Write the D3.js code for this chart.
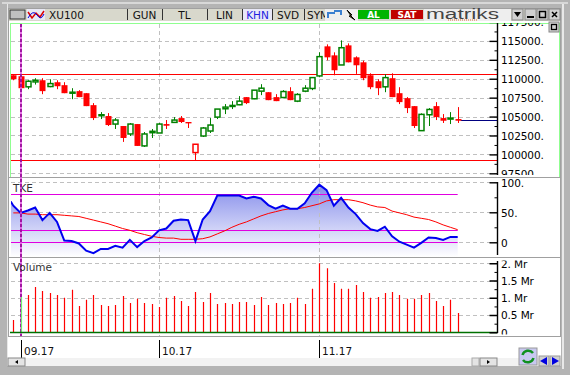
<!DOCTYPE html>
<html>
<head>
<meta charset="utf-8">
<script src="https://cdn.jsdelivr.net/npm/d3@7"></script>
<style>
  html, body { margin: 0; padding: 0; background: #b4b4b4; overflow: hidden; }
  svg { display: block; }
  text { font-family: "DejaVu Sans", sans-serif; }
</style>
</head>
<body>
<svg id="chart" width="570" height="375"></svg>
<script>
// XU100 daily candles.
const opens  = [110460,110330,108930,109580,109800,108970,109540,109150,108140,108360,108090,106510,105150,105070,104010,103750,102700,104010,101120,102870,102830,104010,104230,104800,104280,100240,102430,103090,104930,106030,106380,106560,107570,107350,108360,108220,107570,107520,108360,107040,108360,108710,110370,114280,113090,111820,114410,112830,112170,110460,109670,108930,110070,108090,107430,106380,103140,105240,106380,104800,104710,104670];
const highs  = [110460,110330,109800,110070,110070,109930,109800,109540,108750,108490,108090,106780,105590,105460,104800,103750,104150,104010,102960,103360,104150,104540,104930,105070,104280,101340,103620,104800,105990,106650,107040,107700,107570,108490,109280,108220,107960,108490,108880,108090,109150,110200,113490,114540,113490,115070,114670,112960,112390,110720,109930,110590,110720,108880,107570,106380,105420,106120,106910,105330,105590,106250];
const lows   = [109800,108750,108620,109230,107960,108880,108620,108090,107300,107570,106380,104540,104670,103750,103360,101650,102430,101120,100990,102170,102830,103360,104230,104150,103490,99230,102300,102830,104670,105330,105990,106510,106650,107300,107830,107170,107040,107430,107170,106910,108220,108490,110200,112430,110460,111820,112170,110640,109800,108620,107830,108220,107570,106650,105460,103490,103140,103750,104540,104150,104010,104150];
const closes = [109930,108750,109670,109800,108360,109360,109010,108090,108220,107570,106380,104800,105240,103880,104540,102170,104010,101120,102700,103050,104010,103790,104540,104280,104100,101340,103490,103880,105990,106250,106470,107040,106780,108490,108750,107170,107040,108310,107170,107920,108750,110150,112920,112830,111120,114100,112170,111780,110070,108880,108750,110150,107570,106910,106120,103750,105290,105940,104930,104450,104800,104450];
const hollowRed = [25];

const tke    = [61,49,53,58,37,49,34,3,2,-2,-14,-18,-11,-11,-6,-9,4,-8,2,8,20,23,36,38,37,2,38,52,78,78,78,78,73,76,73,62,56,61,56,56,65,83,96,87,61,74,58,47,32,22,19,26,10,1,-4,-9,-1,8,7,4,9,9];
const signal = [49,49,47,47,46,46,46,45,44,43,40,37,34,31,27,23,20,16,13,10,8,7,7,5,5,5,6,9,14,19,25,30,34,39,44,48,51,54,56,56,58,61,64,69,71,71,71,69,66,62,59,58,52,49,46,42,40,38,34,29,25,21];
const tkeLead = 68; // value just left of the first candle

const volume = [.36,1.02,1.08,1.31,1.2,1.14,1.08,1,1.23,.76,.94,1.08,.79,.76,.79,1.05,.85,.97,.85,.82,.73,1,1.05,.91,.76,1.17,.88,1.14,.82,.85,.82,.88,.88,.79,1.02,.79,.85,.82,.85,1,.82,1.26,2,1.86,1.43,1.26,1.26,1.37,1.17,1,1.02,1.14,1.17,1.08,.97,.97,1.08,1.14,.91,.76,.94,.56];

const priceTicks = [97500,100000,102500,105000,107500,110000,112500,115000,117500];
const priceMinor = [98750,101250,103750,106250,108750,111250,113750,116250];
const priceLines = [110680,99230];
const lastPrice  = 104500;
const tkeTicks = [0,50,100];
const tkeMinor = [-25,25,75];
const tkeLines = [80,20,0];
const volTicks = [0,0.5,1,1.5,2];
const volMinor = [0.25,0.75,1.25,1.75];
const monthLabels = ['09.17','10.17','11.17'];
const monthIdx = [1,20,42];
const toolbarTabs = ['GUN','TL','LIN','KHN','SVD','SYM'];
const toolbarTabX = [128,163,208,243,273,305];
const toolbarTabW = [33,43,33,29,30,20];

const svg = d3.select('#chart');
const x = d3.scaleLinear().domain([0, 61]).range([13.3, 457.7]);
const yP = d3.scaleLinear().domain([100000, 115000]).range([154.4, 40.9]);
const yT = d3.scaleLinear().domain([0, 100]).range([242.3, 182.3]);
const yV = d3.scaleLinear().domain([0, 2]).range([332.3, 263.3]);
const px = i => Math.round(x(i));
const AX = 497.5;

// window chrome
svg.append('rect').attr('x', 0).attr('y', 0).attr('width', 570).attr('height', 375).attr('fill', '#b4b4b4');
svg.append('rect').attr('x', 8).attr('y', 8).attr('width', 553).attr('height', 350).attr('fill', '#fff');
svg.append('rect').attr('x', 8).attr('y', 358).attr('width', 553).attr('height', 8).attr('fill', '#f2f2f2');
svg.append('rect').attr('x', 8.5).attr('y', 8.5).attr('width', 552).attr('height', 328).attr('fill', 'none').attr('stroke', '#a0a0a0');
svg.append('rect').attr('x', 562).attr('y', 3).attr('width', 2).attr('height', 366).attr('fill', '#e8e8e8');
svg.append('rect').attr('x', 2).attr('y', 2).attr('width', 566).attr('height', 2).attr('fill', '#d8d8d8');
svg.append('rect').attr('x', 7).attr('y', 4).attr('width', 1).attr('height', 362).attr('fill', '#e8e8e8');

const defs = svg.append('defs');
const grad = defs.append('linearGradient').attr('id', 'tkeFill')
  .attr('gradientUnits', 'userSpaceOnUse').attr('x1', 0).attr('x2', 0).attr('y1', 182).attr('y2', 257);
grad.append('stop').attr('offset', 0).attr('stop-color', '#8088ea');
grad.append('stop').attr('offset', 1).attr('stop-color', '#ffffff');
[['clipMain', 8, 23, 552, 152], ['clipTke', 11, 178, 549, 79], ['clipVol', 8, 260.5, 552, 74]].forEach(c => {
  defs.append('clipPath').attr('id', c[0]).append('rect')
    .attr('x', c[1]).attr('y', c[2]).attr('width', c[3]).attr('height', c[4]);
});

function gridLines(g, vals, y) {
  g.selectAll('line.grid').data(vals).enter().append('line').attr('class', 'grid')
    .attr('x1', 11).attr('x2', AX)
    .attr('y1', d => Math.round(y(d)) + .5).attr('y2', d => Math.round(y(d)) + .5)
    .attr('stroke', '#c0c0c0').attr('stroke-dasharray', '4,3');
}

function rightAxis(parent, y, major, minor, fmt) {
  const g = parent.append('g').attr('transform', `translate(${AX},0)`);
  g.call(d3.axisRight(y).tickValues(major).tickFormat(fmt).tickSizeOuter(0));
  g.select('.domain').remove();
  g.selectAll('.tick line').attr('x1', -8).attr('x2', 0).attr('stroke', '#000').attr('stroke-width', 1.4);
  g.selectAll('.tick text').attr('x', 3.5).attr('dy', '.36em').attr('fill', '#000')
    .style('font-size', '10.5px').style('font-family', '"DejaVu Sans"').style('letter-spacing', '-0.1px');
  const m = parent.append('g').attr('transform', `translate(${AX},0)`);
  m.call(d3.axisRight(y).tickValues(minor).tickFormat('').tickSizeOuter(0));
  m.select('.domain').remove();
  m.selectAll('.tick line').attr('x1', -3).attr('x2', 0).attr('stroke', '#000');
}

// --- vertical guides sit under the price and volume marks
const vx = monthIdx.map(i => Math.round(x(i)) + .5);

// --- price panel
const main = svg.append('g').attr('clip-path', 'url(#clipMain)');
gridLines(main, priceTicks, yP);
main.selectAll('line.vg').data(vx.slice(1)).enter().append('line').attr('class', 'vg')
  .attr('x1', d => d).attr('x2', d => d).attr('y1', 24).attr('y2', 176)
  .attr('stroke', '#c0c0c0').attr('stroke-dasharray', '4,3');
svg.append('rect').attr('x', 10.5).attr('y', 23.5).attr('width', 549).attr('height', 154)
  .attr('fill', 'none').attr('stroke', '#90ff90').attr('stroke-width', 1);
main.selectAll('line.level').data(priceLines).enter().append('line').attr('class', 'level')
  .attr('x1', 11).attr('x2', AX)
  .attr('y1', d => Math.round(yP(d)) + .5).attr('y2', d => Math.round(yP(d)) + .5)
  .attr('stroke', '#f00');
main.append('line').attr('x1', x(61) + 3).attr('x2', AX)
  .attr('y1', Math.round(yP(lastPrice)) + .5).attr('y2', Math.round(yP(lastPrice)) + .5)
  .attr('stroke', '#000080');

const idx = d3.range(opens.length);
const isUp = i => closes[i] >= opens[i];
const candleColor = i => (isUp(i) && !hollowRed.includes(i)) ? '#008000' : '#f00';
main.selectAll('line.wick').data(idx).enter().append('line').attr('class', 'wick')
  .attr('x1', i => px(i) + .5).attr('x2', i => px(i) + .5)
  .attr('y1', i => yP(highs[i])).attr('y2', i => yP(lows[i]))
  .attr('stroke', candleColor);
main.selectAll('rect.body').data(idx).enter().append('rect').attr('class', 'body')
  .attr('x', i => isUp(i) ? px(i) - 2 : px(i) - 2.5)
  .attr('width', i => isUp(i) ? 5 : 6)
  .attr('y', i => isUp(i) ? yP(closes[i]) : yP(opens[i]))
  .attr('height', i => Math.max(1, Math.abs(yP(closes[i]) - yP(opens[i]))))
  .attr('fill', i => isUp(i) ? '#fff' : '#f00')
  .attr('stroke', i => isUp(i) ? candleColor(i) : 'none')
  .attr('stroke-width', 1.5);
const priceAxis = svg.append('g').attr('clip-path', 'url(#clipMain)');
rightAxis(priceAxis, yP, priceTicks, priceMinor, d => d + '.');
svg.append('line').attr('x1', AX).attr('x2', AX).attr('y1', 23).attr('y2', 175).attr('stroke', '#000').attr('stroke-width', 1.4);

// --- TKE panel
const sep = [177.5, 257.5];
svg.selectAll('line.sep').data(sep).enter().append('line').attr('class', 'sep')
  .attr('x1', 8).attr('x2', 561).attr('y1', d => d).attr('y2', d => d).attr('stroke', '#a0a0a0');
const tkeG = svg.append('g').attr('clip-path', 'url(#clipTke)');
gridLines(tkeG, tkeTicks, yT);
const lineX = i => i < 0 ? x(-0.35) : x(i);
const tkePts = [[-1, tkeLead]].concat(tke.map((v, i) => [i, v]));
tkeG.append('path').datum(tkePts)
  .attr('d', d3.area().x(d => lineX(d[0])).y0(257).y1(d => yT(d[1])))
  .attr('fill', 'url(#tkeFill)');
tkeG.selectAll('line.vg').data(vx.slice(1)).enter().append('line').attr('class', 'vg')
  .attr('x1', d => d).attr('x2', d => d).attr('y1', 178).attr('y2', 257)
  .attr('stroke', '#c0c0c0').attr('stroke-dasharray', '4,3');
tkeG.selectAll('line.tl').data(tkeLines).enter().append('line').attr('class', 'tl')
  .attr('x1', 11).attr('x2', x(61))
  .attr('y1', d => Math.round(yT(d)) + .5).attr('y2', d => Math.round(yT(d)) + .5)
  .attr('stroke', '#e000e0');
tkeG.append('path').datum(signal)
  .attr('d', d3.line().x((d, i) => x(i)).y(d => yT(d)))
  .attr('fill', 'none').attr('stroke', '#f00');
tkeG.append('path').datum(tkePts)
  .attr('d', d3.line().x(d => lineX(d[0])).y(d => yT(d[1])))
  .attr('fill', 'none').attr('stroke', '#0000f0').attr('stroke-width', 2);
const tkeAxis = svg.append('g').attr('clip-path', 'url(#clipTke)');
rightAxis(tkeAxis, yT, tkeTicks, tkeMinor, d => d === 0 ? '0' : d + '.');
svg.append('line').attr('x1', AX).attr('x2', AX).attr('y1', 182).attr('y2', 255).attr('stroke', '#000').attr('stroke-width', 1.4);
svg.append('text').attr('x', 13).attr('y', 192).attr('fill', '#333').style('font-size', '10.5px').text('TKE');

// --- volume panel
const volG = svg.append('g').attr('clip-path', 'url(#clipVol)');
gridLines(volG, volTicks.slice(1), yV);
svg.selectAll('line.vgv').data(vx.slice(1)).enter().append('line').attr('class', 'vgv')
  .attr('x1', d => d).attr('x2', d => d).attr('y1', 258).attr('y2', 336)
  .attr('stroke', '#c0c0c0').attr('stroke-dasharray', '4,3');
// purple cursor line runs under the light green bar
svg.append('line').attr('x1', vx[0] - .5).attr('x2', vx[0] - .5).attr('y1', 24).attr('y2', 336)
  .attr('stroke', '#e050e0').attr('stroke-width', 1.6);
svg.append('line').attr('x1', vx[0] - .5).attr('x2', vx[0] - .5).attr('y1', 24).attr('y2', 336)
  .attr('stroke', '#900090').attr('stroke-width', 1.6).attr('stroke-dasharray', '3,2');
const volBars = svg.append('g').attr('clip-path', 'url(#clipVol)');
volBars.selectAll('line.vol').data(volume).enter().append('line').attr('class', 'vol')
  .attr('x1', (d, i) => px(i) + .5).attr('x2', (d, i) => px(i) + .5)
  .attr('y1', d => yV(d)).attr('y2', yV(0))
  .attr('stroke', (d, i) => i === 1 ? '#70f070' : '#f00').attr('stroke-width', 1.2);
volBars.append('line').attr('x1', 10).attr('x2', AX).attr('y1', yV(0) + .2).attr('y2', yV(0) + .2)
  .attr('stroke', '#007000').attr('stroke-width', 1.4);
const volAxis = svg.append('g').attr('clip-path', 'url(#clipVol)');
rightAxis(volAxis, yV, volTicks, volMinor, d => d === 0 ? '0' : (Number.isInteger(d) ? d + '. Mr' : d + ' Mr'));
svg.append('line').attr('x1', AX).attr('x2', AX).attr('y1', 261).attr('y2', 333).attr('stroke', '#000').attr('stroke-width', 1.4);
svg.append('text').attr('x', 13).attr('y', 271).attr('fill', '#333').style('font-size', '10.5px').text('Volume');

// --- months
const months = svg.append('g');
monthLabels.forEach((m, i) => {
  months.append('line').attr('x1', vx[i]).attr('x2', vx[i]).attr('y1', 340).attr('y2', 358).attr('stroke', '#000');
  months.append('text').attr('x', vx[i] + 2.5).attr('y', 355).attr('fill', '#111').style('font-size', '10.5px').text(m);
});

// --- toolbar
const bar = svg.append('g');
bar.append('rect').attr('x', 9).attr('y', 9).attr('width', 551).attr('height', 12).attr('fill', '#d8d8cc');
bar.append('rect').attr('x', 10).attr('y', 10).attr('width', 15).attr('height', 9).attr('fill', '#c0c0c0').attr('stroke', '#333');
bar.append('rect').attr('x', 27).attr('y', 9).attr('width', 18).attr('height', 11).attr('fill', '#e8e8f4');
bar.append('path').attr('d', 'M28,12 L32,18 L36,13 L40,17 L44,11').attr('fill', 'none').attr('stroke', '#d00').attr('stroke-width', 1.5);
bar.append('path').attr('d', 'M28,18 Q33,9 37,15 T44,14').attr('fill', 'none').attr('stroke', '#00d');
bar.append('text').attr('x', 49).attr('y', 19).attr('fill', '#111').style('font-size', '10.5px').text('XU100');
toolbarTabs.forEach((t, i) => {
  bar.append('rect').attr('x', toolbarTabX[i]).attr('y', 9).attr('width', toolbarTabW[i]).attr('height', 11)
    .attr('fill', t === 'KHN' ? '#e8e8f8' : '#d8d8cc');
  bar.append('line').attr('x1', toolbarTabX[i] - .5).attr('x2', toolbarTabX[i] - .5).attr('y1', 9).attr('y2', 20).attr('stroke', '#333');
  bar.append('text').attr('x', toolbarTabX[i] + (t === 'SYM' ? 2 : toolbarTabW[i] / 2)).attr('y', 19)
    .attr('text-anchor', t === 'SYM' ? 'start' : 'middle').attr('fill', t === 'KHN' ? '#2020e0' : '#111')
    .style('font-size', '10.5px').text(t);
});
bar.append('rect').attr('x', 325).attr('y', 9).attr('width', 33).attr('height', 12).attr('fill', '#eee');
bar.append('path').attr('d', 'M328,18 L328,13 L335,13 M334,11 L341,11 L341,15').attr('fill', 'none').attr('stroke', '#3a7fd0').attr('stroke-width', 2);
bar.append('path').attr('d', 'M347,10 L352,15 L350,15 L355,20 L349,16 L351,16 Z').attr('fill', '#e0d020').attr('stroke', '#000');
bar.append('rect').attr('x', 358).attr('y', 10).attr('width', 31).attr('height', 9).attr('fill', '#00b400');
bar.append('text').attr('x', 373.5).attr('y', 18).attr('text-anchor', 'middle').attr('fill', '#fff').style('font-size', '9px').style('font-weight', 'bold').text('AL');
bar.append('rect').attr('x', 391).attr('y', 10).attr('width', 32).attr('height', 9).attr('fill', '#c00000');
bar.append('text').attr('x', 407).attr('y', 18).attr('text-anchor', 'middle').attr('fill', '#fff').style('font-size', '9px').style('font-weight', 'bold').text('SAT');
bar.append('rect').attr('x', 424).attr('y', 9).attr('width', 87).attr('height', 12).attr('fill', '#eeeeee');
bar.append('text').attr('x', 426).attr('y', 18.5).attr('fill', '#444').attr('textLength', 73).attr('lengthAdjust', 'spacingAndGlyphs')
  .style('font-size', '14px').style('font-family', '"Liberation Sans"').text('matriks');
bar.append('line').attr('x1', 448).attr('x2', 478).attr('y1', 20).attr('y2', 20).attr('stroke', '#e07030').attr('stroke-dasharray', '1,1');
// window buttons
const winX = [512, 525, 537, 549];
winX.forEach(v => {
  bar.append('rect').attr('x', v).attr('y', 9).attr('width', 11).attr('height', 11).attr('fill', '#d0d0d0').attr('stroke', '#888');
});
bar.append('path').attr('d', 'M514,12 L521,12 L517.5,17 Z').attr('fill', '#000');
bar.append('rect').attr('x', 527).attr('y', 16).attr('width', 7).attr('height', 2).attr('fill', '#000');
bar.append('rect').attr('x', 539.5).attr('y', 11.5).attr('width', 6).attr('height', 6).attr('fill', 'none').attr('stroke', '#000').attr('stroke-width', 1.5);
bar.append('path').attr('d', 'M552,12 L557,17 M557,12 L552,17').attr('stroke', '#000').attr('stroke-width', 1.5);
bar.append('rect').attr('x', 549).attr('y', 22).attr('width', 10).attr('height', 10).attr('fill', '#d0d0d0').attr('stroke', '#888');
bar.append('rect').attr('x', 551.5).attr('y', 24.5).attr('width', 5).attr('height', 5).attr('fill', 'none').attr('stroke', '#000').attr('stroke-width', 1.3);

// --- bottom widgets
const bot = svg.append('g');
bot.append('rect').attr('x', 8).attr('y', 358).attr('width', 17).attr('height', 8).attr('fill', '#e4e4e4').attr('stroke', '#888');
bot.append('path').attr('d', 'M15,362 L18,360 L18,364 Z').attr('fill', '#000');
bot.append('rect').attr('x', 472).attr('y', 358).attr('width', 7).attr('height', 8).attr('fill', '#e4e4e4').attr('stroke', '#aaa');
bot.append('rect').attr('x', 480).attr('y', 358).attr('width', 17).attr('height', 8).attr('fill', '#e4e4e4').attr('stroke', '#888');
bot.append('path').attr('d', 'M487,360 L490,362 L487,364 Z').attr('fill', '#000');
bot.append('rect').attr('x', 519).attr('y', 348).attr('width', 18).attr('height', 17).attr('fill', '#c8c8f0').attr('stroke', '#999');
bot.append('path').attr('d', 'M522.5,355 A6,6 0 0 1 533,353 M533.5,358 A6,6 0 0 1 523,360')
  .attr('fill', 'none').attr('stroke', '#109020').attr('stroke-width', 2.5);
[539, 550].forEach((v, i) => {
  bot.append('rect').attr('x', v).attr('y', 356).attr('width', 10).attr('height', 10).attr('fill', '#d0d0d0').attr('stroke', '#999');
  bot.append('path').attr('d', i === 0 ? `M${v + 1},361 L${v + 8},357 L${v + 8},365 Z` : `M${v + 9},361 L${v + 2},357 L${v + 2},365 Z`).attr('fill', '#0000e0');
});
</script>
</body>
</html>
